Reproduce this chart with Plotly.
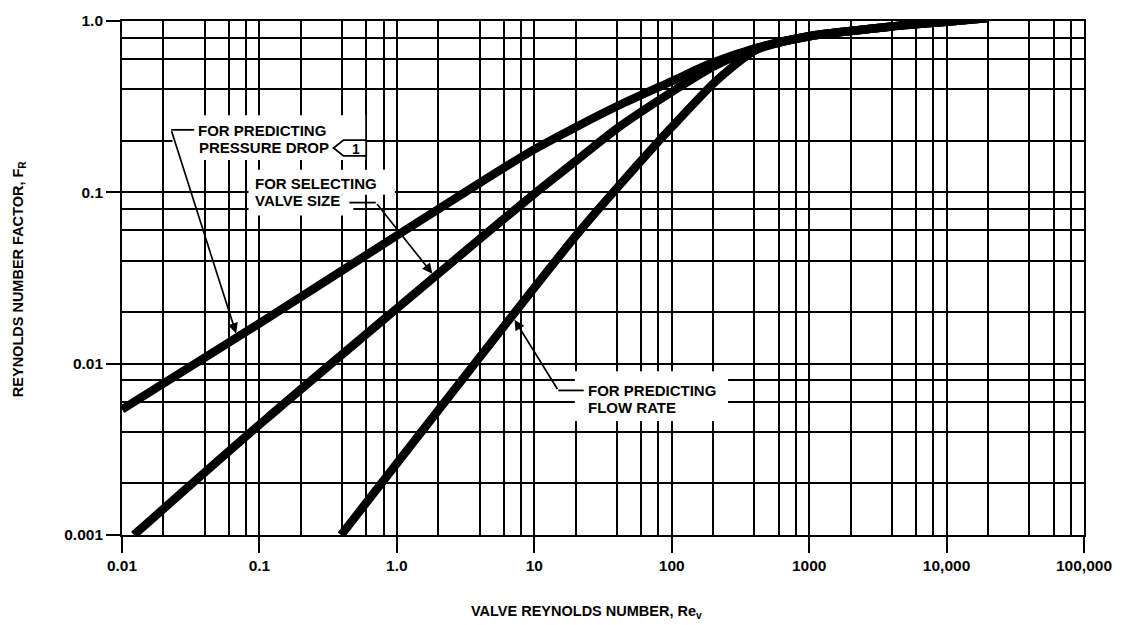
import numpy as np
import plotly.graph_objects as go

# Reynolds number factor F_R versus valve Reynolds number Re_v
re_pressure_drop = [0.01, 0.1, 1.0, 3, 10, 20, 40, 100, 200, 400, 1000, 2000, 4000, 10000, 20000]
fr_pressure_drop = [0.0054, 0.0172, 0.056, 0.098, 0.178, 0.24, 0.318, 0.445, 0.572, 0.69, 0.815, 0.875, 0.93, 0.99, 1.04]

re_valve_size = [0.0122, 0.11, 1.0, 10, 20, 40, 100, 200, 300, 400, 1000, 2000, 4000, 10000, 20000]
fr_valve_size = [0.001, 0.0047, 0.021, 0.098, 0.152, 0.236, 0.385, 0.54, 0.63, 0.69, 0.815, 0.875, 0.93, 0.99, 1.04]

re_flow_rate = [0.393, 1.4, 20, 40, 80, 100, 200, 265, 400, 500, 1000, 2000, 4000, 10000, 20000]
fr_flow_rate = [0.001, 0.0037, 0.0556, 0.106, 0.198, 0.24, 0.43, 0.525, 0.67, 0.718, 0.815, 0.875, 0.93, 0.99, 1.04]

# Axis ticks and the 2-4-6-8 grid within each decade
x_tick_vals = [0.01, 0.1, 1, 10, 100, 1000, 10000, 100000]
x_tick_text = ["0.01", "0.1", "1.0", "10", "100", "1000", "10,000", "100,000"]
y_tick_vals = [0.001, 0.01, 0.1, 1]
y_tick_text = ["0.001", "0.01", "0.1", "1.0"]
grid_multipliers = [2, 4, 6, 8]

x_minor = [m * 10.0 ** k for k in range(-2, 5) for m in grid_multipliers]
y_minor = [m * 10.0 ** k for k in range(-3, 0) for m in grid_multipliers]

# Figure geometry
W, H = 1124, 625
L, R, T, B = 122, 29, 17, 90
PW, PH = W - L - R, H - T - B
X_RANGE = (-2, 5)
Y_RANGE = (-3, 0)

FONT = "Liberation Sans, Arial, Helvetica, sans-serif"
INK = "black"
GRID_W = 1.5


def paper_x(p):
    return (p - L) / PW


def paper_y(q):
    return (H - B - q) / PH


def log_x(p):
    return X_RANGE[0] + (X_RANGE[1] - X_RANGE[0]) * (p - L) / PW


def log_y(q):
    return Y_RANGE[0] + (Y_RANGE[1] - Y_RANGE[0]) * (H - B - q) / PH


def on_curve(re_vals, fr_vals, re_point):
    """log10 of F_R on a curve at a given Re_v (log-log interpolation)."""
    return float(np.interp(np.log10(re_point), np.log10(re_vals), np.log10(fr_vals)))


fig = go.Figure()
for re_vals, fr_vals in [
    (re_pressure_drop, fr_pressure_drop),
    (re_valve_size, fr_valve_size),
    (re_flow_rate, fr_flow_rate),
]:
    fig.add_trace(
        go.Scatter(
            x=re_vals,
            y=fr_vals,
            mode="lines",
            line=dict(color=INK, width=8.5, shape="spline", smoothing=0.9),
            hoverinfo="skip",
            showlegend=False,
        )
    )

axis_common = dict(
    type="log",
    ticks="outside",
    tickwidth=1.5,
    tickcolor=INK,
    showgrid=True,
    gridcolor=INK,
    gridwidth=GRID_W,
    showline=True,
    linecolor=INK,
    linewidth=1.7,
    mirror=True,
    zeroline=False,
    tickfont=dict(family=FONT, size=15.5, color=INK, weight="bold"),
    fixedrange=True,
)

fig.update_xaxes(
    range=list(X_RANGE),
    tickmode="array",
    tickvals=x_tick_vals,
    ticktext=x_tick_text,
    ticklen=16,
    minor=dict(tickvals=x_minor, showgrid=True, gridcolor=INK, gridwidth=GRID_W, ticks=""),
    **axis_common,
)
fig.update_yaxes(
    range=list(Y_RANGE),
    tickmode="array",
    tickvals=y_tick_vals,
    ticktext=y_tick_text,
    ticklen=14,
    minor=dict(tickvals=y_minor, showgrid=True, gridcolor=INK, gridwidth=GRID_W, ticks=""),
    **axis_common,
)

# White label backgrounds that break the grid
label_boxes = [
    (173, 112, 368, 157),
    (250, 167, 398, 192),
    (250, 192, 356, 213),
    (580, 370, 735, 420),
]
shapes = []
for x0, y0, x1, y1 in label_boxes:
    shapes.append(
        dict(
            type="rect", xref="paper", yref="paper",
            x0=paper_x(x0), x1=paper_x(x1), y0=paper_y(y1), y1=paper_y(y0),
            fillcolor="white", line=dict(width=0), layer="above",
        )
    )

# Note flag "1" next to the pressure-drop label
flag_pts = [(336, 145), (346, 137), (369, 137), (369, 153), (346, 153)]
flag_path = "M " + " L ".join(f"{paper_x(a):.5f},{paper_y(b):.5f}" for a, b in flag_pts) + " Z"
shapes.append(
    dict(type="path", xref="paper", yref="paper", path=flag_path,
         fillcolor="white", line=dict(color=INK, width=1.8), layer="above")
)

# Leader elbows (horizontal stubs beside each label)
elbows = [
    (171.7, 195.0, 126.7),
    (352.0, 378.7, 200.0),
    (563.3, 589.0, 389.3),
]
for xa, xb, yy in elbows:
    shapes.append(
        dict(type="line", xref="paper", yref="paper",
             x0=paper_x(xa), x1=paper_x(xb), y0=paper_y(yy), y1=paper_y(yy),
             line=dict(color=INK, width=1.8), layer="above")
    )

annotations = []

# Leader arrows: tail at the elbow, head on the curve
leaders = [
    ((171.7, 126.7), (re_pressure_drop, fr_pressure_drop), 0.069),
    ((378.7, 200.0), (re_valve_size, fr_valve_size), 1.89),
    ((563.3, 389.3), (re_flow_rate, fr_flow_rate), 6.93),
]
for (tx, ty), (re_vals, fr_vals), re_tip in leaders:
    annotations.append(
        dict(
            x=float(np.log10(re_tip)), y=on_curve(re_vals, fr_vals, re_tip),
            xref="x", yref="y",
            ax=log_x(tx), ay=log_y(ty), axref="x", ayref="y",
            text="", showarrow=True,
            arrowhead=2, arrowsize=1.2, arrowwidth=1.7, arrowcolor=INK,
            standoff=4,
        )
    )

label_font = dict(family=FONT, size=15, color=INK, weight="bold")
label_lines = [
    ("FOR PREDICTING", 197, 127),
    ("PRESSURE DROP", 198, 144.5),
    ("FOR SELECTING", 254, 181),
    ("VALVE SIZE", 254, 197.5),
    ("FOR PREDICTING", 591, 389),
    ("FLOW RATE", 591, 407),
]
for text, lx, ly in label_lines:
    annotations.append(
        dict(text=text, x=paper_x(lx), y=paper_y(ly), xref="paper", yref="paper",
             xanchor="left", yanchor="middle", showarrow=False, font=label_font)
    )

annotations.append(
    dict(text="1", x=paper_x(358.5), y=paper_y(145.5), xref="paper", yref="paper",
         xanchor="center", yanchor="middle", showarrow=False,
         font=dict(family=FONT, size=14, color=INK, weight="bold"))
)

title_font = dict(family=FONT, size=14.5, color=INK, weight="bold")
annotations.append(
    dict(text="VALVE REYNOLDS NUMBER, Re<sub>v</sub>", x=paper_x(592), y=paper_y(613),
         xref="paper", yref="paper", xanchor="center", yanchor="middle",
         showarrow=False, font=title_font)
)
annotations.append(
    dict(text="REYNOLDS NUMBER FACTOR, F<sub>R</sub>", x=paper_x(18), y=paper_y(277),
         xref="paper", yref="paper", xanchor="center", yanchor="middle",
         textangle=-90, showarrow=False, font=title_font)
)

fig.update_layout(
    width=W,
    height=H,
    margin=dict(l=L, r=R, t=T, b=B, pad=0),
    paper_bgcolor="white",
    plot_bgcolor="white",
    shapes=shapes,
    annotations=annotations,
    showlegend=False,
)

fig.write_html("out.html", config={"displayModeBar": False, "responsive": False})
